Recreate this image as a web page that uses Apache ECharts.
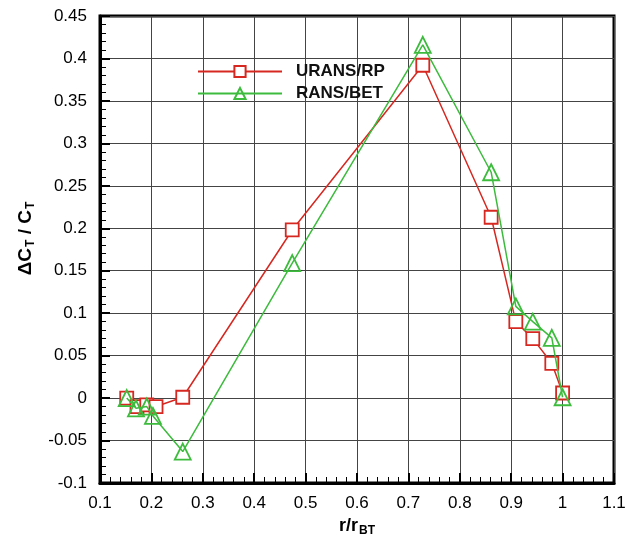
<!DOCTYPE html>
<html>
<head>
<meta charset="utf-8">
<script src="https://cdn.jsdelivr.net/npm/echarts@6/dist/echarts.min.js"></script>
<style>
  html, body { margin: 0; padding: 0; background: #fff; }
  #chart { width: 626px; height: 536px; }
</style>
</head>
<body>
<div id="chart"></div>
<script>
// r/r_BT positions and dCT/CT values
const uransX = [0.152, 0.172, 0.191, 0.209, 0.261, 0.474, 0.728, 0.861, 0.909, 0.942, 0.979, 1.0]
const uransY = [0.0, -0.01, -0.008, -0.01, 0.001, 0.198, 0.392, 0.213, 0.09, 0.07, 0.041, 0.006]
const ransX = [0.152, 0.170, 0.191, 0.203, 0.261, 0.474, 0.728, 0.861, 0.909, 0.942, 0.979, 1.0]
const ransY = [0.0, -0.012, -0.01, -0.021, -0.063, 0.159, 0.416, 0.266, 0.108, 0.09, 0.071, 0.001]

const seriesNames = ['URANS/RP', 'RANS/BET']
const redColor = '#d62820'
const greenColor = '#3cbb3c'
const font = 'Liberation Sans, Arial, sans-serif'

const zip = (xs, ys) => xs.map((x, i) => [x, ys[i]])

const chart = echarts.init(document.getElementById('chart'))

const axisCommon = {
  axisLine: { show: true, onZero: false, lineStyle: { color: '#000', width: 3 } },
  axisTick: { show: true, inside: true, length: 10, lineStyle: { color: '#000', width: 2 } },
  minorTick: { show: true, splitNumber: 5, length: 6, lineStyle: { color: '#000', width: 1 } },
  splitLine: { show: true, lineStyle: { color: '#444', width: 1 } },
  axisLabel: { color: '#000', fontSize: 17, fontFamily: font }
}

const option = {
  animation: false,
  grid: {
    left: 100, right: 12, top: 16, bottom: 53,
    outerBoundsMode: 'none',
    show: true, borderColor: '#000', borderWidth: 3, backgroundColor: 'transparent'
  },
  legend: {
    data: seriesNames,
    orient: 'vertical',
    left: 197, top: 63,
    padding: 0,
    itemWidth: 84, itemHeight: 14, itemGap: 5,
    textStyle: {
      fontSize: 17, fontWeight: 'bold', fontFamily: font, color: '#111',
      lineHeight: 14, padding: [0, 0, 0, 9]
    }
  },
  xAxis: {
    type: 'value',
    min: 0.1, max: 1.1, interval: 0.1,
    ...axisCommon,
    axisLabel: { ...axisCommon.axisLabel, margin: 12, formatter: v => +v.toFixed(1) + '' },
    name: '{m|r/r}{s|BT}',
    nameLocation: 'middle',
    nameGap: 31,
    nameTextStyle: {
      rich: {
        m: { fontSize: 18, fontWeight: 'bold', fontFamily: font, color: '#000' },
        s: { fontSize: 12, fontWeight: 'bold', fontFamily: font, color: '#000', padding: [10, 0, 0, 1] }
      }
    }
  },
  yAxis: {
    type: 'value',
    min: -0.1, max: 0.45, interval: 0.05,
    ...axisCommon,
    axisLabel: { ...axisCommon.axisLabel, margin: 13, formatter: v => +v.toFixed(2) + '' },
    name: '{m|\u0394C}{s|T}{m| / C}{s|T}',
    nameLocation: 'middle',
    nameGap: 63,
    nameRotate: 90,
    nameTextStyle: {
      padding: [0, 0, 0, 22],
      rich: {
        m: { fontSize: 19, fontWeight: 'bold', fontFamily: font, color: '#000' },
        s: { fontSize: 12, fontWeight: 'bold', fontFamily: font, color: '#000', padding: [10, 0, 0, 1] }
      }
    }
  },
  series: [
    {
      name: seriesNames[0],
      type: 'line',
      data: zip(uransX, uransY),
      symbol: 'rect',
      symbolSize: 13,
      showAllSymbol: true,
      lineStyle: { color: redColor, width: 1.5 },
      itemStyle: { color: '#fff', borderColor: redColor, borderWidth: 1.8 },
      z: 3
    },
    {
      name: seriesNames[1],
      type: 'line',
      data: zip(ransX, ransY),
      symbol: 'triangle',
      symbolSize: 16,
      showAllSymbol: true,
      lineStyle: { color: greenColor, width: 1.5 },
      itemStyle: { color: 'rgba(0,0,0,0)', borderColor: greenColor, borderWidth: 1.8 },
      z: 4
    }
  ]
}

chart.setOption(option)
</script>
</body>
</html>
